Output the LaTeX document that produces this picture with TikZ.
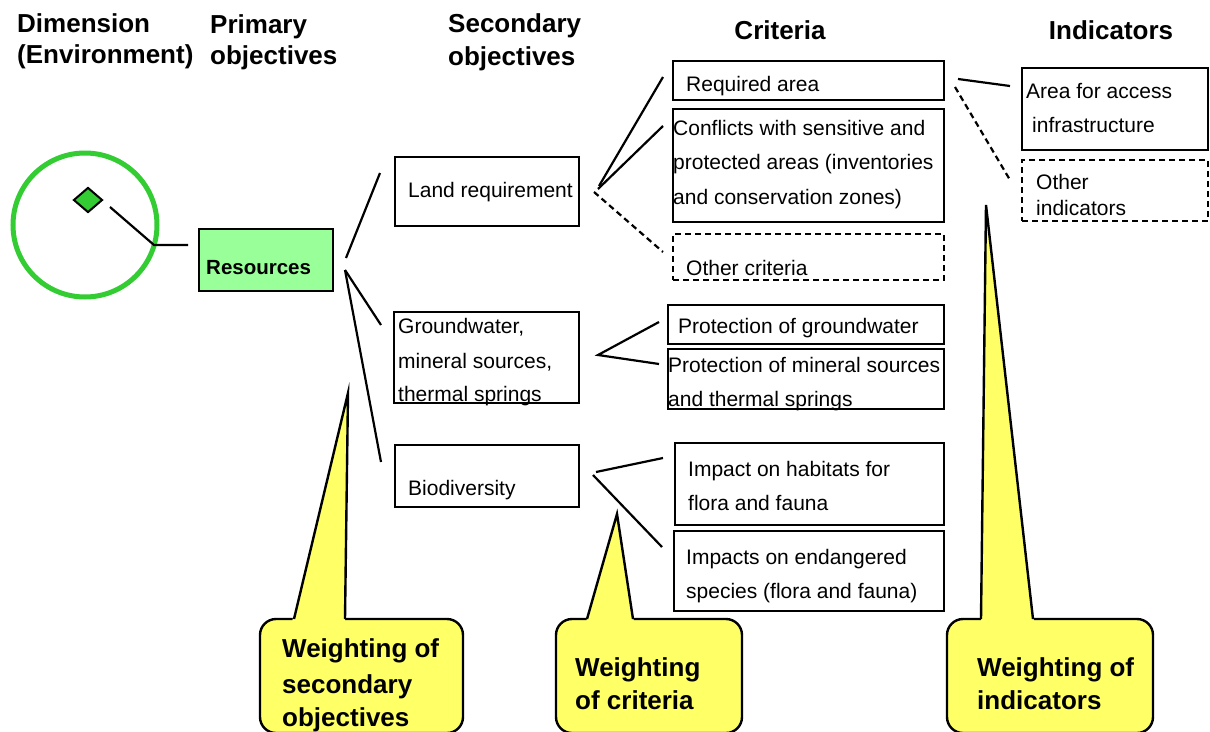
\documentclass[tikz,border=0pt]{standalone}
\usepackage{fontspec}
\setmainfont{Liberation Sans}
\usetikzlibrary{shapes.geometric,fit}
\definecolor{ringgreen}{HTML}{33CC33}
\definecolor{resgreen}{HTML}{99FF99}
\definecolor{cyellow}{HTML}{FFFF66}
\begin{document}
\begin{tikzpicture}[x=1pt,y=-1pt,
  hdr/.style={font=\fontsize{26}{32}\selectfont\bfseries, inner sep=0, anchor=base west},
  txt/.style={font=\fontsize{21}{25}\selectfont, inner sep=0, anchor=base west},
  boxed/.style={draw, line width=2.2, inner sep=0},
  dboxed/.style={boxed, dash pattern=on 6pt off 4pt},
  conn/.style={line width=2.2},
  dconn/.style={line width=2.2, dash pattern=on 6pt off 4pt},
  callbox/.style={draw, fill=cyellow, line width=2.4, rounded corners=16, inner sep=0},
  ctext/.style={font=\fontsize{26}{32}\selectfont\bfseries, inner sep=0, anchor=base west}
]
\useasboundingbox[fill=white] (0,0) rectangle (1210,731);

% headers
\node[hdr] (h1a) at (17,32) {Dimension};
\node[hdr] (h1b) at (17,63) {(Environment)};
\node[hdr] (h2a) at (210,33) {Primary};
\node[hdr] (h2b) at (210,64) {objectives};
\node[hdr] (h3a) at (448,32) {Secondary};
\node[hdr] (h3b) at (448,65) {objectives};
\node[hdr, anchor=base] (h4) at (780,39) {Criteria};
\node[hdr, anchor=base] (h5) at (1111,39) {Indicators};

% dimension circle
\node[circle, draw=ringgreen, line width=5, minimum size=144, inner sep=0] (dim) at (85,225) {};
\node[diamond, draw, fill=ringgreen, line width=2, minimum width=29, minimum height=25, inner sep=0] (dia) at (88,200) {};

% resources
\node[boxed, fill=resgreen, fit={(199,229) (333,291)}] (res) {};
\node[txt, font=\fontsize{20.5}{25}\selectfont\bfseries] (res-t) at (206,274) {Resources};

% secondary
\node[boxed, fit={(395,157) (579,226)}] (land) {};
\node[txt] (land-t) at (408,197) {Land requirement};
\node[boxed, fit={(394,312) (579,403)}] (gw) {};
\node[txt] (gw-t1) at (398,333) {Groundwater,};
\node[txt] (gw-t2) at (398,368) {mineral sources,};
\node[txt] (gw-t3) at (398,401) {thermal springs};
\node[boxed, fit={(395,445) (579,507)}] (bio) {};
\node[txt] (bio-t) at (408,495) {Biodiversity};

% criteria
\node[boxed, fit={(673,61) (944,100)}] (req) {};
\node[txt] (req-t) at (686,91) {Required area};
\node[boxed, fit={(673,109) (944,222)}] (conf) {};
\node[txt] (conf-t1) at (673,135) {Conflicts with sensitive and};
\node[txt] (conf-t2) at (673,169) {protected areas (inventories};
\node[txt] (conf-t3) at (673,204) {and conservation zones)};
\node[dboxed, fit={(673,234) (944,280)}] (ocrit) {};
\node[txt] (ocrit-t) at (686,275) {Other criteria};
\node[boxed, fit={(668,305) (944,344)}] (pgw) {};
\node[txt] (pgw-t) at (678,333) {Protection of groundwater};
\node[boxed, fit={(668,349) (944,409)}] (pms) {};
\node[txt] (pms-t1) at (668,372) {Protection of mineral sources};
\node[txt] (pms-t2) at (668,406) {and thermal springs};
\node[boxed, fit={(675,443) (944,525)}] (hab) {};
\node[txt] (hab-t1) at (688,476) {Impact on habitats for};
\node[txt] (hab-t2) at (688,510) {flora and fauna};
\node[boxed, fit={(674,531) (944,611)}] (end) {};
\node[txt] (end-t1) at (686,564) {Impacts on endangered};
\node[txt] (end-t2) at (686,598) {species (flora and fauna)};

% indicators
\node[boxed, fit={(1022,68) (1208,150)}] (acc) {};
\node[txt] (acc-t1) at (1026,98) {Area for access};
\node[txt] (acc-t2) at (1032,132) {infrastructure};
\node[dboxed, fit={(1022,160) (1208,221)}] (oind) {};
\node[txt] (oind-t1) at (1036,189) {Other};
\node[txt] (oind-t2) at (1036,215) {indicators};

% connector end coordinates
\coordinate (d1) at (110,207);
\coordinate (d2) at (154,245);
\coordinate (d3) at (188,245);
\coordinate (r1) at (346,258);
\coordinate (r2) at (345,270);
\coordinate (s1) at (380,173);
\coordinate (s2) at (381,325);
\coordinate (s3) at (381,462);
\coordinate (l1) at (599,186);
\coordinate (l2) at (598,189);
\coordinate (l3) at (594,192);
\coordinate (c1) at (663,77);
\coordinate (c2) at (663,126);
\coordinate (c3) at (663,252);
\coordinate (g0) at (598,355);
\coordinate (g1) at (659,322);
\coordinate (g2) at (659,364);
\coordinate (b1) at (596,472);
\coordinate (b2) at (593,475);
\coordinate (e1) at (663,458);
\coordinate (e2) at (662,547);
\coordinate (q1) at (958,79);
\coordinate (q2) at (955,87);
\coordinate (i1) at (1010,86);
\coordinate (i2) at (1010,180);

\draw[conn] (d1) -- (d2) -- (d3);
\draw[conn] (r1) -- (s1);
\draw[conn] (r2) -- (s2);
\draw[conn] (r2) -- (s3);
\draw[conn] (l1) -- (c1);
\draw[conn] (l2) -- (c2);
\draw[dconn] (l3) -- (c3);
\draw[conn] (g1) -- (g0) -- (g2);
\draw[conn] (b1) -- (e1);
\draw[conn] (b2) -- (e2);
\draw[conn] (q1) -- (i1);
\draw[dconn] (q2) -- (i2);

% callouts
\node[callbox, fit={(260,619) (463,733)}] (cb1) {};
\fill[cyellow] (292,622) -- (348,393) -- (345,622) -- cycle;
\draw[line width=2.4, line join=miter] (294,619) -- (348,393) -- (345,619);
\node[ctext] (cb1-t1) at (282,657) {Weighting of};
\node[ctext] (cb1-t2) at (282,693) {secondary};
\node[ctext] (cb1-t3) at (282,726) {objectives};

\node[callbox, fit={(556,619) (742,733)}] (cb2) {};
\fill[cyellow] (586,622) -- (617,514) -- (634,622) -- cycle;
\draw[line width=2.4, line join=miter] (587,619) -- (617,514) -- (633,619);
\node[ctext] (cb2-t1) at (575,676) {Weighting};
\node[ctext] (cb2-t2) at (575,709) {of criteria};

\node[callbox, fit={(947,619) (1153,733)}] (cb3) {};
\fill[cyellow] (981,622) -- (986,205) -- (1034,622) -- cycle;
\draw[line width=2.4, line join=miter] (981,619) -- (986,205) -- (1033,619);
\node[ctext] (cb3-t1) at (977,676) {Weighting of};
\node[ctext] (cb3-t2) at (977,709) {indicators};
\end{tikzpicture}
\end{document}
